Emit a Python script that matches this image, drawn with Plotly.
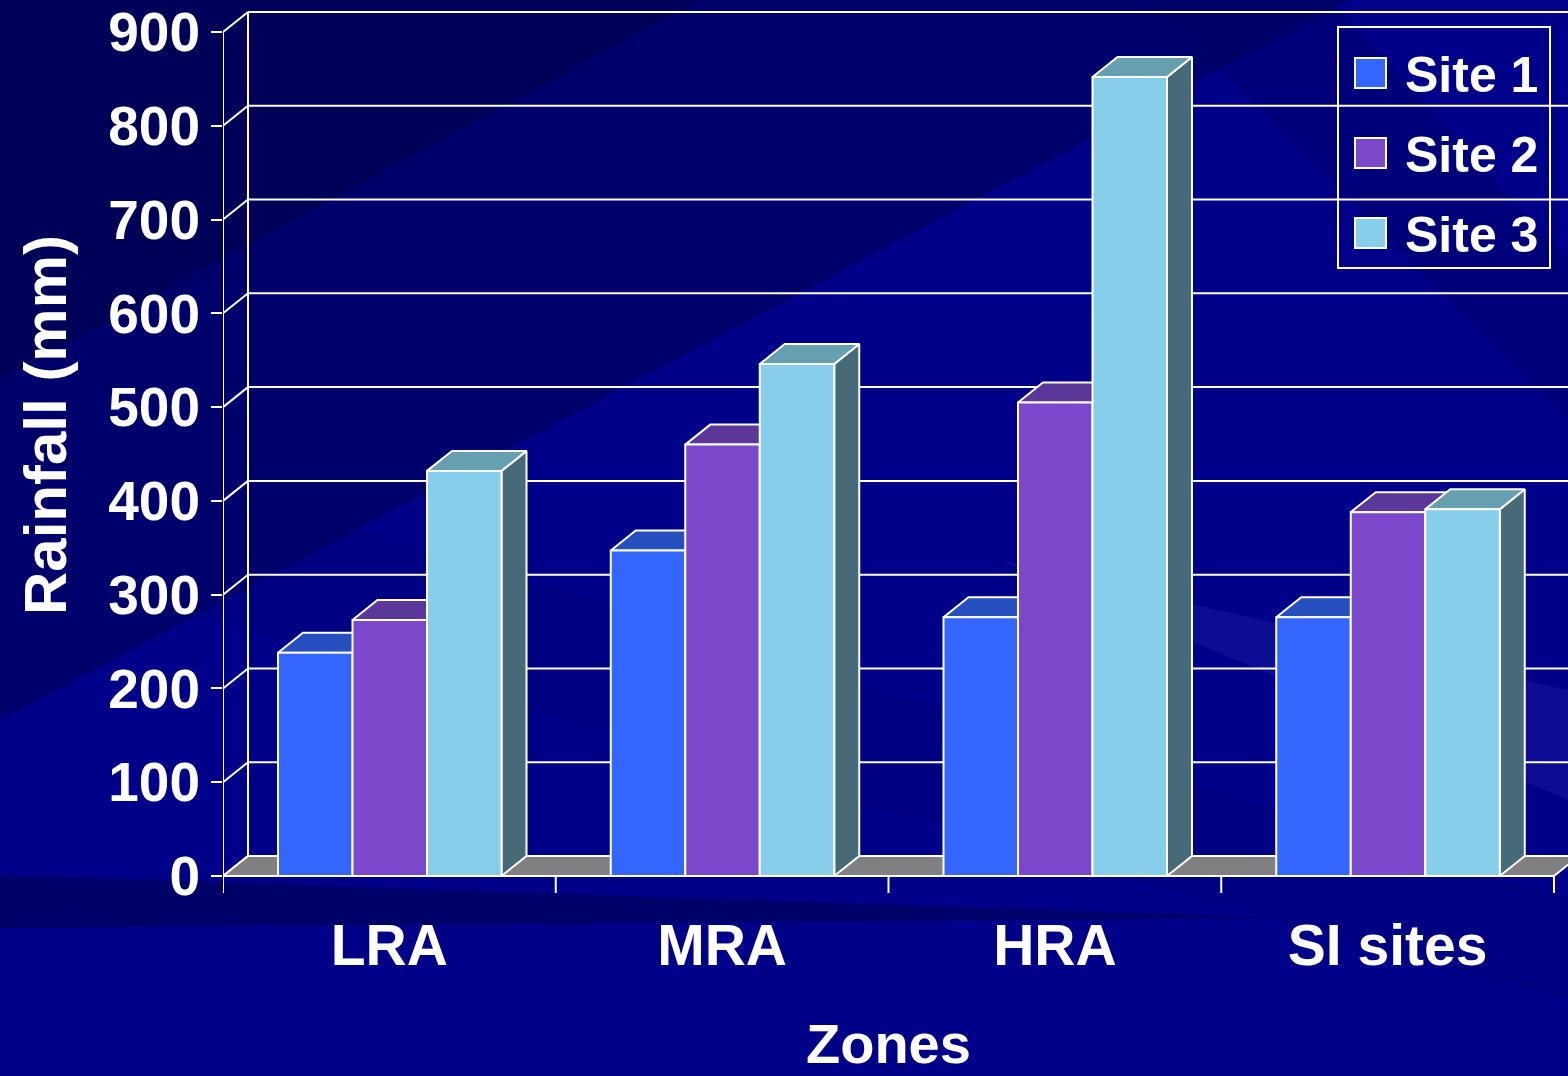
import plotly.graph_objects as go

# ---------------- data ----------------
categories = ["LRA", "MRA", "HRA", "SI sites"]
series_names = ["Site 1", "Site 2", "Site 3"]
site1 = [238, 347, 276, 276]
site2 = [273, 460, 505, 388]
site3 = [432, 546, 852, 391]
y_ticks = [0, 100, 200, 300, 400, 500, 600, 700, 800, 900]
x_title = "Zones"
y_title = "Rainfall (mm)"

# ---------------- style ----------------
front_colors = ["#3366FF", "#7B48CC", "#87CEEB"]
top_colors = ["#2650C0", "#5A3799", "#66A0B0"]
side_colors = ["#1F3F9A", "#4A2D80", "#466A78"]
floor_color = "#808080"
line_w = 2
FONT = "Liberation Sans, Arial, sans-serif"

W, H = 1568, 1076
L, R, T, B = 223, 0, 0, 183
plot_w = W - L - R
plot_h = H - T - B
cat_px = 332.75          # pixels per category
y_px = 844 / 900         # pixels per mm
x_range = [-0.5, -0.5 + plot_w / cat_px]
y_bottom = -(17) / y_px
y_range = [y_bottom, y_bottom + plot_h / y_px]
dx = 25 / cat_px         # 3D depth offset (x)
dy = 20 / y_px           # 3D depth offset (y)
bar_w = 74.5 / cat_px
gap = 55 / cat_px

values = [site1, site2, site3]
n = len(categories)
xl = -0.5
xr = x_range[1] + 0.2

fig = go.Figure()

# back wall gridlines + side wall diagonals
gx, gy = [], []
for t in y_ticks:
    gx += [xl + dx, xr, None]
    gy += [t + dy, t + dy, None]
    gx += [xl, xl + dx, None]
    gy += [t, t + dy, None]
gx += [xl + dx, xl + dx]
gy += [dy, y_ticks[-1] + dy]
fig.add_trace(go.Scatter(x=gx, y=gy, mode="lines", line=dict(color="white", width=line_w),
                         hoverinfo="skip", showlegend=False))

# floor
fig.add_trace(go.Scatter(x=[xl, xl + n, xl + n + dx, xl + dx, xl], y=[0, 0, dy, dy, 0],
                         mode="lines", fill="toself", fillcolor=floor_color,
                         line=dict(color="white", width=line_w), hoverinfo="skip", showlegend=False))

# bars (front, top, side faces)
for g in range(n):
    for s in range(len(series_names)):
        v = values[s][g]
        x0 = g - 0.5 + gap + s * bar_w
        x1 = x0 + bar_w
        fig.add_trace(go.Scatter(x=[x1, x1 + dx, x1 + dx, x1, x1], y=[0, dy, v + dy, v, 0],
                                 mode="lines", fill="toself", fillcolor=side_colors[s],
                                 line=dict(color="white", width=line_w), hoverinfo="skip", showlegend=False))
        fig.add_trace(go.Scatter(x=[x0, x1, x1 + dx, x0 + dx, x0], y=[v, v, v + dy, v + dy, v],
                                 mode="lines", fill="toself", fillcolor=top_colors[s],
                                 line=dict(color="white", width=line_w), hoverinfo="skip", showlegend=False))
        fig.add_trace(go.Scatter(x=[x0, x1, x1, x0, x0], y=[0, 0, v, v, 0],
                                 mode="lines", fill="toself", fillcolor=front_colors[s],
                                 line=dict(color="white", width=line_w), name=series_names[s],
                                 text=f"{categories[g]} – {series_names[s]}: {v} mm", hoverinfo="text",
                                 hoveron="fills", showlegend=False))

# front floor edge, boundary ticks, front vertical axis
ax, ay = [xl, xl + n, None], [0, 0, None]
for k in range(n + 1):
    ax += [xl + k, xl + k, None]
    ay += [0, y_bottom, None]
ax += [xl, xl]
ay += [y_bottom, y_ticks[-1]]
fig.add_trace(go.Scatter(x=ax, y=ay, mode="lines", line=dict(color="white", width=line_w),
                         hoverinfo="skip", showlegend=False))


def P(px, py):
    return (px - L) / plot_w, (T + plot_h - py) / plot_h


def path(points):
    pts = [P(*p) for p in points]
    return "M " + " L ".join(f"{x:.5f},{y:.5f}" for x, y in pts) + " Z"


shapes = []
bg_polys = [
    ([(0, 0), (1350, 0), (0, 720)], "#000050", 0.5),
    ([(0, 0), (700, 0), (0, 380)], "#000040", 0.45),
    ([(0, 875), (1280, 918), (0, 928)], "#000050", 0.55),
    ([(1000, 560), (1568, 690), (1568, 800)], "#2a2ab0", 0.3),
    ([(1150, 0), (1330, 0), (1568, 260), (1568, 420)], "#000060", 0.35),
    ([(0, 420), (1568, 900), (1568, 1000), (0, 560)], "#000070", 0.2),
]
for pts, col, op in bg_polys:
    shapes.append(dict(type="path", xref="paper", yref="paper", path=path(pts),
                       fillcolor=col, opacity=op, line=dict(width=0), layer="below"))

# legend (manual, large squares)
lx0, ly0 = P(1338, 27)
lx1, ly1 = P(1550, 268)
shapes.append(dict(type="rect", xref="paper", yref="paper", x0=lx0, y0=ly1, x1=lx1, y1=ly0,
                   line=dict(color="white", width=2), fillcolor="rgba(0,0,0,0)", layer="above"))
row_y = [73, 153, 233]
annotations = []
for s, name in enumerate(series_names):
    sx0, sy0 = P(1355, row_y[s] - 15)
    sx1, sy1 = P(1386, row_y[s] + 15)
    shapes.append(dict(type="rect", xref="paper", yref="paper", x0=sx0, y0=sy1, x1=sx1, y1=sy0,
                       fillcolor=front_colors[s], line=dict(color="white", width=2), layer="above"))
    tx, ty = P(1403, row_y[s] + 2)
    annotations.append(dict(xref="paper", yref="paper", x=tx, y=ty, xanchor="left", yanchor="middle",
                            text=name, showarrow=False,
                            font=dict(family=FONT, size=50, color="white", weight="bold")))

# axis titles
tx, ty = P(45, 425)
annotations.append(dict(xref="paper", yref="paper", x=tx, y=ty, xanchor="center", yanchor="middle",
                        text=y_title, textangle=-90, showarrow=False,
                        font=dict(family=FONT, size=60, color="white", weight="bold")))
tx, ty = P(888, 1043)
annotations.append(dict(xref="paper", yref="paper", x=tx, y=ty, xanchor="center", yanchor="middle",
                        text=x_title, showarrow=False,
                        font=dict(family=FONT, size=56, color="white", weight="bold")))

fig.update_layout(
    width=W, height=H, autosize=False,
    margin=dict(l=L, r=R, t=T, b=B, pad=0),
    paper_bgcolor="#000088", plot_bgcolor="rgba(0,0,0,0)",
    showlegend=False, shapes=shapes, annotations=annotations,
    xaxis=dict(range=x_range, showgrid=False, zeroline=False, showline=False,
               tickmode="array", tickvals=list(range(n)), ticktext=categories,
               ticks="outside", ticklen=3, tickcolor="rgba(0,0,0,0)",
               tickfont=dict(family=FONT, size=57, color="white", weight="bold"), fixedrange=True),
    yaxis=dict(range=y_range, showgrid=False, zeroline=False, showline=False,
               tickmode="array", tickvals=y_ticks, ticktext=[str(t) for t in y_ticks],
               ticks="outside", ticklen=11, tickwidth=2, tickcolor="white",
               ticklabelstandoff=0,
               tickfont=dict(family=FONT, size=55, color="white", weight="bold"), fixedrange=True),
)

fig.write_html("out.html")
